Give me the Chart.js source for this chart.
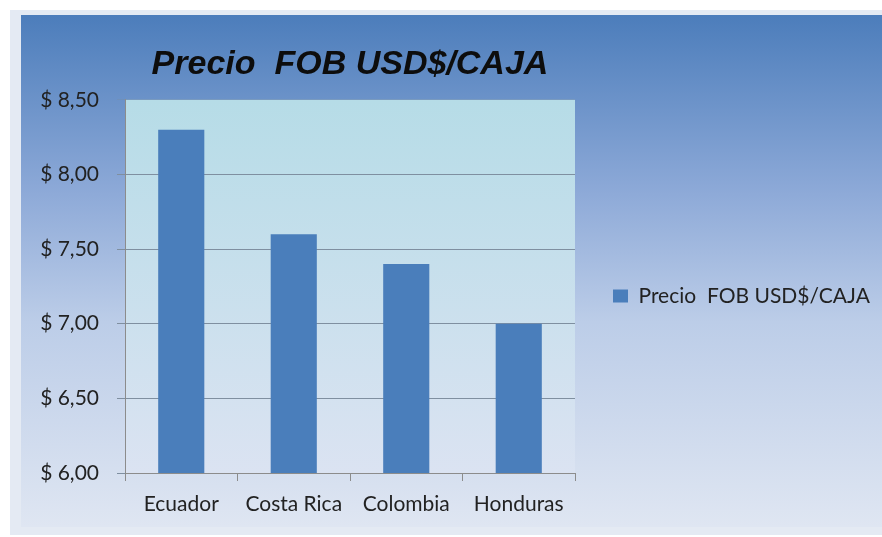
<!DOCTYPE html>
<html>
<head>
<meta charset="utf-8">
<script src="https://cdn.jsdelivr.net/npm/chart.js@4"></script>
<style>
html,body{margin:0;padding:0;background:#fff;overflow:hidden}
canvas{display:block}
</style>
</head>
<body>
<canvas id="myChart" width="882" height="537"></canvas>
<script>
const categories=['Ecuador','Costa Rica','Colombia','Honduras'];
const prices=[8.30,7.60,7.40,7.00];
const seriesLabel='Precio  FOB USD$/CAJA';
const chartTitle='Precio  FOB USD$/CAJA';
const yMin=6, yMax=8.5, yStep=0.5;

function money(v){
    return '$ '+v.toFixed(2).replace('.',',');
}

// blue panel + light plot area behind everything
const panelBg={
    id:'panelBg',
    beforeDraw(chart){
        const ctx=chart.ctx, w=chart.width, h=chart.height;
        ctx.save();
        ctx.fillStyle='#ffffff';
        ctx.fillRect(0,0,w,h);
        ctx.fillStyle='#e4eaf3';
        ctx.fillRect(10,10,w-10,h-12);
        let g=ctx.createLinearGradient(0,15,0,527);
        g.addColorStop(0,'#4c7dbb');
        g.addColorStop(0.35,'#8eaad8');
        g.addColorStop(0.6,'#bccde8');
        g.addColorStop(1,'#dfe6f2');
        ctx.fillStyle=g;
        ctx.fillRect(21,15,w-21,512);
        const a=chart.chartArea;
        g=ctx.createLinearGradient(0,a.top,0,a.bottom);
        g.addColorStop(0,'#b6dce7');
        g.addColorStop(1,'#dbe3f2');
        ctx.fillStyle=g;
        ctx.fillRect(a.left,a.top,a.right-a.left,a.bottom-a.top);
        ctx.restore();
    }
};

// legend on the right is wider than half the free width, so fix its width
const legendWidth={
    id:'legendWidth',
    beforeLayout(chart){
        const lg=chart.legend;
        if(lg && !lg._fixed){
            const fit=lg.fit;
            lg.fit=function(){
                fit.call(this);
                this.width=307;
            };
            lg._fixed=true;
        }
    }
};

const labelFont={family:'Lato',size:21};

let myChart=document.querySelector("#myChart").getContext("2d");
var chart=new Chart(myChart,{
    type:"bar",
    data:{
        labels:categories,
        datasets:[
            {
                label:seriesLabel,
                data:prices,
                backgroundColor:"#4a7ebb",
                borderWidth:0,
                barPercentage:0.41,
                categoryPercentage:1
            }
        ]
    },
    options:{
        responsive:false,
        animation:false,
        layout:{padding:{left:0,right:0,top:0,bottom:0}},
        plugins:{
            title:{
                display:true,
                text:chartTitle,
                fullSize:false,
                color:"#0d0d0d",
                font:{family:'"Liberation Sans", Arial',size:34,weight:'bold',style:'italic',lineHeight:1.2},
                padding:{top:44,bottom:15}
            },
            legend:{
                position:'right',
                fullSize:false,
                align:'center',
                title:{display:true,text:'',padding:0,font:{size:19,lineHeight:1}},
                labels:{boxWidth:15,boxHeight:13,padding:38,color:'#222',font:labelFont}
            },
            tooltip:{enabled:false}
        },
        scales:{
            x:{
                grid:{offset:true,drawOnChartArea:false,tickLength:8,color:'#8c8c8c'},
                border:{color:'#8c8c8c'},
                ticks:{padding:11,color:'#222',font:labelFont},
                afterFit(s){ s.height=64; }
            },
            y:{
                min:yMin,
                max:yMax,
                ticks:{stepSize:yStep,padding:18,color:'#222',font:labelFont,callback:(v)=>money(v)},
                grid:{
                    tickLength:8,
                    color:(c)=>c.tick && c.tick.value===yMax ? 'rgba(120,140,160,0.35)' : '#7f8fa0'
                },
                border:{color:'#8c8c8c'},
                afterFit(s){ s.width=125; }
            }
        }
    },
    plugins:[panelBg,legendWidth]
});
</script>
</body>
</html>
